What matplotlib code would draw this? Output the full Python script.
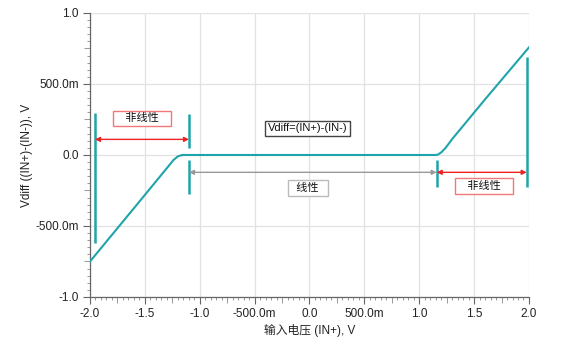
import matplotlib
matplotlib.use("Agg")
import matplotlib.pyplot as plt
from matplotlib.ticker import MultipleLocator, FuncFormatter
import numpy as np

plt.rcParams['font.family'] = ['Liberation Sans', 'Noto Sans CJK SC', 'DejaVu Sans']

# curve data (input voltage V, Vdiff V)
vin = [-2.0, -1.6, -1.3, -1.24, -1.2, -1.17, -1.15, -1.0, -0.5, 0.0, 0.5, 1.0,
       1.15, 1.17, 1.2, 1.24, 1.3, 1.6, 2.0]
vdiff = [-0.75, -0.375, -0.093, -0.036, -0.010, -0.002, 0.0, 0.0, 0.0, 0.0, 0.0, 0.0,
         0.0, 0.003, 0.018, 0.050, 0.112, 0.392, 0.758]

# boundary markers: (x, y_bottom, y_top)
markers = [(-1.954, -0.62, 0.296),
           (-1.098, 0.047, 0.289),
           (-1.098, -0.275, -0.035),
           (1.159, -0.228, -0.035),
           (1.979, -0.223, 0.692)]

# arrows: (x_start, x_end, y, color)
arrows = [(-1.954, -1.098, 0.11, '#ee2222'),
          (-1.098, 1.159, -0.122, '#999999'),
          (1.159, 1.979, -0.122, '#ee2222')]

# labels: (x, y, text, edgecolor)
labels = [(-1.526, 0.258, '非线性', '#f07878'),
          (-0.015, 0.188, 'Vdiff=(IN+)-(IN-)', '#444444'),
          (-0.015, -0.231, '线性', '#bbbbbb'),
          (1.59, -0.22, '非线性', '#f07878')]
label_pad = ['   ', '', '  ', '   ']

teal = '#20a4ac'

fig = plt.figure(figsize=(5.78, 3.58), dpi=100)
ax = fig.add_axes([0.1557, 0.1704, 0.9152 - 0.1557, 0.9637 - 0.1704])

ax.set_xlim(-2.0, 2.0)
ax.set_ylim(-1.0, 1.0)

ax.grid(True, which='major', color='#e2e2e2', linewidth=0.9, zorder=0)
ax.set_axisbelow(True)

ax.plot(vin, vdiff, color=teal, linewidth=1.5, zorder=3)

for x, y0, y1 in markers:
    ax.plot([x, x], [y0, y1], color=teal, linewidth=1.8, solid_capstyle='butt', zorder=4)

for x0, x1, y, c in arrows:
    ax.annotate('', xy=(x1, y), xytext=(x0, y),
                arrowprops=dict(arrowstyle='<|-|>', color=c, lw=1.0,
                                mutation_scale=7, shrinkA=0, shrinkB=0), zorder=5)

for (x, y, t, ec), p in zip(labels, label_pad):
    ax.text(x, y, p + t + p, ha='center', va='center', fontsize=8, color='#111111',
            bbox=dict(boxstyle='square,pad=0.25', fc='white', ec=ec, lw=1.0), zorder=6)

for s in ['top', 'right']:
    ax.spines[s].set_visible(False)
for s in ['left', 'bottom']:
    ax.spines[s].set_color('#666666')
    ax.spines[s].set_linewidth(0.9)

ax.xaxis.set_major_locator(MultipleLocator(0.5))
ax.xaxis.set_minor_locator(MultipleLocator(0.05))
ax.yaxis.set_major_locator(MultipleLocator(0.5))
ax.yaxis.set_minor_locator(MultipleLocator(0.05))


def fmt(v, pos):
    if abs(v) < 1e-9:
        return '0.0'
    if abs(v) < 1:
        return f'{v*1000:.1f}m'
    return f'{v:.1f}'


ax.xaxis.set_major_formatter(FuncFormatter(fmt))
ax.yaxis.set_major_formatter(FuncFormatter(fmt))

ax.tick_params(which='major', direction='out', length=5, width=0.8, color='#666666',
               labelsize=8.5, labelcolor='#222222', pad=3)
ax.tick_params(which='minor', direction='out', length=2.5, width=0.6, color='#888888')

# medium ticks at 0.25 positions
for axis in (ax.xaxis, ax.yaxis):
    locs = axis.get_minorticklocs()
    ticks = axis.get_minor_ticks(len(locs))
    for loc, tk in zip(locs, ticks):
        r = loc / 0.25
        if abs(r - round(r)) < 1e-6:
            tk.tick1line.set_markersize(4)

ax.set_xlabel('输入电压 (IN+), V', fontsize=8.5, color='#222222', labelpad=3)
ax.set_ylabel('Vdiff ((IN+)-(IN-)), V', fontsize=8.5, color='#222222', labelpad=2)

fig.savefig('out.png', dpi=100)
